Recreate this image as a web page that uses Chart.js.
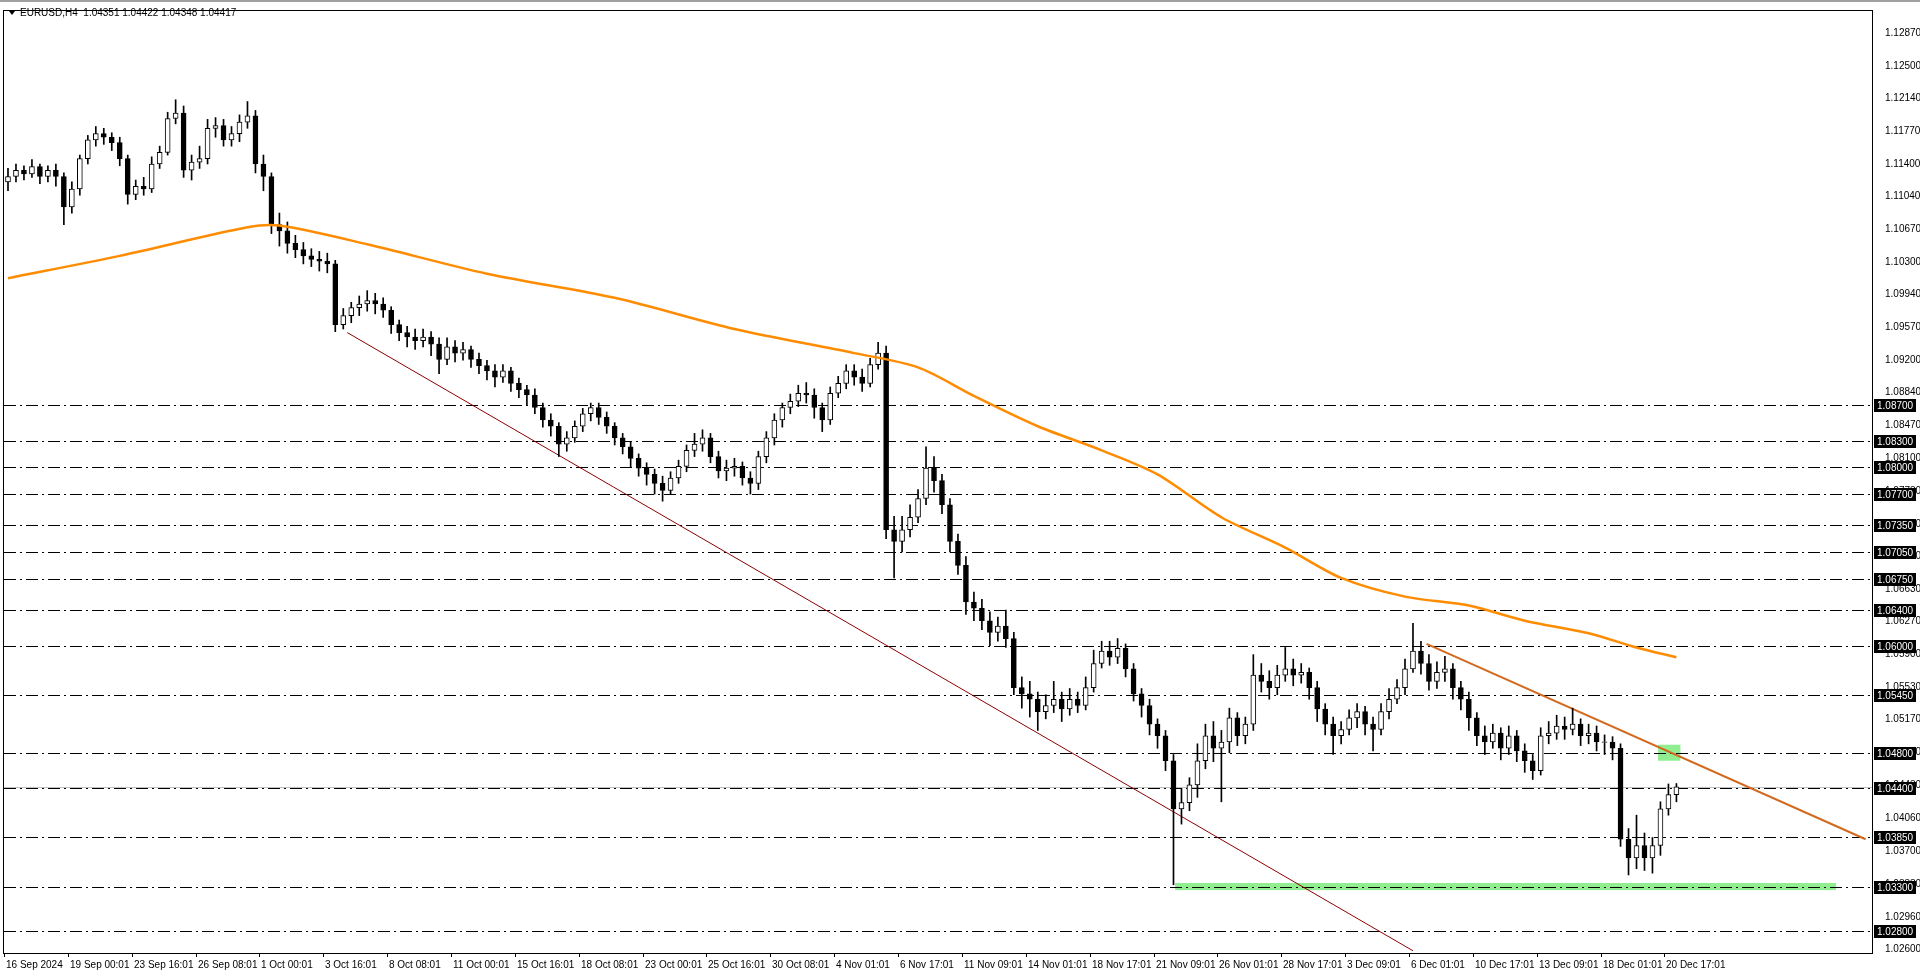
<!DOCTYPE html>
<html>
<head>
<meta charset="utf-8">
<script src="https://cdn.jsdelivr.net/npm/chart.js@4/dist/chart.umd.min.js"></script>
<style>
  html, body { margin: 0; padding: 0; background: #fff; }
  #wrap { width: 1920px; height: 976px; position: relative; }
</style>
</head>
<body>
<div id="wrap"><canvas id="c"></canvas></div>
<script>
// EURUSD H4, one candle per 8 hours
const closes = [
  1.1126,1.1133,1.1129,1.1137,1.1126,1.1133,1.1126,1.1092,1.1112,1.1146,
  1.1167,1.1174,1.1170,1.1164,1.1146,1.1106,1.1115,1.1112,1.1140,1.1153,
  1.1191,1.1197,1.1133,1.1142,1.1146,1.1180,1.1183,1.1167,1.1174,1.1187,
  1.1194,1.1140,1.1126,1.1072,1.1065,1.1051,1.1044,1.1037,1.1033,1.1031,
  1.1028,1.0960,1.0970,1.0979,1.0983,1.0987,1.0983,1.0976,1.0960,1.0951,
  1.0946,1.0942,1.0946,1.0938,1.0921,1.0935,1.0928,1.0932,1.0921,1.0914,
  1.0908,1.0901,1.0908,1.0894,1.0887,1.0881,1.0867,1.0853,1.0846,1.0826,
  1.0833,1.0846,1.0860,1.0867,1.0856,1.0846,1.0833,1.0823,1.0810,1.0799,
  1.0792,1.0782,1.0774,1.0788,1.0801,1.0819,1.0826,1.0833,1.0812,1.0796,
  1.0799,1.0801,1.0788,1.0782,1.0812,1.0833,1.0853,1.0867,1.0874,1.0883,
  1.0881,1.0867,1.0853,1.0883,1.0894,1.0908,1.0901,1.0894,1.0915,1.0928,
  1.0730,1.0717,1.0730,1.0744,1.0765,1.0799,1.0785,1.0758,1.0717,1.0690,
  1.0649,1.0642,1.0628,1.0615,1.0622,1.0608,1.0553,1.0546,1.0540,1.0526,
  1.0533,1.0540,1.0529,1.0540,1.0533,1.0553,1.0580,1.0594,1.0587,1.0597,
  1.0574,1.0546,1.0533,1.0512,1.0499,1.0471,1.0417,1.0424,1.0444,1.0471,
  1.0499,1.0485,1.0492,1.0519,1.0499,1.0512,1.0567,1.0560,1.0553,1.0567,
  1.0574,1.0567,1.0570,1.0553,1.0529,1.0512,1.0499,1.0506,1.0519,1.0526,
  1.0512,1.0506,1.0526,1.0540,1.0553,1.0574,1.0594,1.0580,1.0560,1.0570,
  1.0574,1.0553,1.0540,1.0519,1.0499,1.0492,1.0502,1.0485,1.0499,1.0482,
  1.0471,1.0460,1.0499,1.0502,1.0510,1.0506,1.0512,1.0499,1.0502,1.0492,
  1.0492,1.0485,1.0383,1.0362,1.0376,1.0362,1.0376,1.0417,1.0433,1.04417
];
const highs = [
  1.1135,1.1140,1.1138,1.1145,1.1140,1.1138,1.1140,1.1130,1.1120,1.1150,
  1.1172,1.1182,1.1180,1.1175,1.1170,1.1150,1.1122,1.1125,1.1148,1.1160,
  1.1198,1.1212,1.1205,1.1150,1.1160,1.1190,1.1192,1.1190,1.1182,1.1195,
  1.1210,1.1200,1.1150,1.1130,1.1085,1.1075,1.1060,1.1052,1.1045,1.1042,
  1.1040,1.1032,1.0978,1.0985,1.0992,1.0998,1.0995,1.0990,1.0980,1.0965,
  1.0958,1.0955,1.0955,1.0952,1.0945,1.0945,1.0942,1.0940,1.0936,1.0928,
  1.0920,1.0915,1.0915,1.0912,1.0900,1.0892,1.0888,1.0872,1.0860,1.0850,
  1.0840,1.0852,1.0866,1.0872,1.0872,1.0862,1.0850,1.0838,1.0828,1.0815,
  1.0805,1.0798,1.0790,1.0795,1.0808,1.0825,1.0838,1.0842,1.0838,1.0818,
  1.0808,1.0810,1.0806,1.0795,1.0818,1.0840,1.0860,1.0872,1.0882,1.0892,
  1.0895,1.0888,1.0872,1.0890,1.0902,1.0915,1.0915,1.0910,1.0922,1.0940,
  1.0936,1.0745,1.0745,1.0758,1.0775,1.0823,1.0812,1.0792,1.0765,1.0725,
  1.0700,1.0660,1.0652,1.0638,1.0632,1.0640,1.0615,1.0565,1.0560,1.0548,
  1.0545,1.0560,1.0548,1.0552,1.0548,1.0565,1.0595,1.0605,1.0605,1.0608,
  1.0602,1.0580,1.0552,1.0540,1.0518,1.0505,1.0478,1.0440,1.0452,1.0490,
  1.0512,1.0515,1.0505,1.0530,1.0525,1.0520,1.0590,1.0580,1.0572,1.0578,
  1.0598,1.0585,1.0580,1.0575,1.0560,1.0535,1.0520,1.0515,1.0528,1.0535,
  1.0532,1.0520,1.0535,1.0552,1.0562,1.0585,1.0625,1.0605,1.0590,1.0582,
  1.0588,1.0580,1.0560,1.0548,1.0525,1.0510,1.0512,1.0508,1.0510,1.0505,
  1.0490,1.0478,1.0508,1.0515,1.0522,1.0520,1.0530,1.0518,1.0512,1.0510,
  1.0500,1.0498,1.0490,1.0395,1.0410,1.0390,1.0385,1.0425,1.0445,1.04455
];
const lows = [
  1.1110,1.1120,1.1122,1.1125,1.1118,1.1120,1.1115,1.1072,1.1085,1.1105,
  1.1140,1.1160,1.1162,1.1155,1.1138,1.1095,1.1100,1.1105,1.1108,1.1135,
  1.1150,1.1185,1.1125,1.1122,1.1135,1.1140,1.1170,1.1160,1.1160,1.1165,
  1.1180,1.1130,1.1110,1.1062,1.1048,1.1040,1.1035,1.1028,1.1025,1.1020,
  1.1018,1.0952,1.0955,1.0962,1.0970,1.0975,1.0972,1.0968,1.0950,1.0942,
  1.0935,1.0932,1.0935,1.0925,1.0905,1.0915,1.0918,1.0920,1.0912,1.0905,
  1.0898,1.0890,1.0895,1.0885,1.0878,1.0870,1.0860,1.0845,1.0835,1.0812,
  1.0818,1.0828,1.0840,1.0852,1.0848,1.0838,1.0825,1.0815,1.0800,1.0790,
  1.0780,1.0770,1.0762,1.0770,1.0782,1.0795,1.0812,1.0818,1.0805,1.0788,
  1.0785,1.0790,1.0780,1.0770,1.0775,1.0805,1.0825,1.0845,1.0860,1.0868,
  1.0872,1.0855,1.0840,1.0848,1.0878,1.0888,1.0892,1.0885,1.0890,1.0910,
  1.0720,1.0676,1.0705,1.0722,1.0738,1.0758,1.0772,1.0748,1.0705,1.0680,
  1.0635,1.0628,1.0618,1.0600,1.0605,1.0598,1.0545,1.0530,1.0520,1.0505,
  1.0518,1.0525,1.0515,1.0522,1.0525,1.0528,1.0548,1.0575,1.0578,1.0580,
  1.0565,1.0538,1.0520,1.0500,1.0485,1.0460,1.0332,1.0400,1.0415,1.0430,
  1.0462,1.0470,1.0425,1.0480,1.0488,1.0490,1.0505,1.0548,1.0540,1.0545,
  1.0560,1.0555,1.0558,1.0540,1.0515,1.0500,1.0478,1.0490,1.0500,1.0508,
  1.0500,1.0482,1.0500,1.0518,1.0535,1.0545,1.0570,1.0568,1.0550,1.0552,
  1.0560,1.0540,1.0528,1.0505,1.0488,1.0478,1.0485,1.0472,1.0478,1.0470,
  1.0458,1.0450,1.0455,1.0490,1.0495,1.0495,1.0500,1.0488,1.0490,1.0482,
  1.0478,1.0472,1.0375,1.0343,1.0350,1.0348,1.0345,1.0365,1.0410,1.0425
];
const firstOpen = 1.1120;

// moving average, sampled at a few candle indices
const maIndex = [0, 14, 30, 34, 45, 60, 76, 91, 106, 114, 121, 129, 137, 144, 152, 160, 167, 175, 183, 190, 198, 204, 209];
const maValue = [1.1012,1.1037,1.1069,1.1071,1.1050,1.1017,1.0990,1.0955,1.0928,1.0912,1.0880,1.0846,1.0819,1.0792,1.0744,1.0710,1.0676,1.0655,1.0645,1.0628,1.0614,1.0598,1.0587];

const timeLabels = ['16 Sep 2024','19 Sep 00:01','23 Sep 16:01','26 Sep 08:01','1 Oct 00:01','3 Oct 16:01','8 Oct 08:01',
  '11 Oct 00:01','15 Oct 16:01','18 Oct 08:01','23 Oct 00:01','25 Oct 16:01','30 Oct 08:01','4 Nov 01:01','6 Nov 17:01',
  '11 Nov 09:01','14 Nov 01:01','18 Nov 17:01','21 Nov 09:01','26 Nov 01:01','28 Nov 17:01','3 Dec 09:01','6 Dec 01:01',
  '10 Dec 17:01','13 Dec 09:01','18 Dec 01:01','20 Dec 17:01'];
const priceTicks = [1.1287,1.125,1.1214,1.1177,1.114,1.1104,1.1067,1.103,1.0994,1.0957,1.092,1.0884,1.0847,1.081,
  1.07730,1.0736,1.07,1.0663,1.0627,1.059,1.0553,1.0517,1.048,1.0443,1.0406,1.037,1.0333,1.0296,1.026];
const levels = [1.087,1.083,1.080,1.077,1.0735,1.0705,1.0675,1.064,1.060,1.0545,1.048,1.044,1.0385,1.033,1.028];

// trend lines [index, price] pairs and zones
const redTrend = [[42.5, 1.0951], [176, 1.0258]];
const orangeTrend = [[177.7, 1.0602], [232.7, 1.0383]];
const zones = [[146.2, 229, 1.0334, 1.0326], [206.7, 209.5, 1.0489, 1.0471]];

const SLOTS = 234;
const FONT = '10px "Liberation Sans", Arial';
const labels = Array.from({ length: SLOTS }, (_, i) => i);
const opens = closes.map((c, i) => i === 0 ? firstOpen : closes[i - 1]);
const bodies = closes.map((c, i) => {
  const o = opens[i];
  return Math.abs(c - o) < 0.00004 ? [o - 0.00003, o + 0.00003] : [o, c];
});
const wicks = closes.map((c, i) => [lows[i], highs[i]]);
const bodyFill = closes.map((c, i) => c >= opens[i] ? '#ffffff' : '#000000');
const maData = labels.map(i => { const k = maIndex.indexOf(i); return k >= 0 ? maValue[k] : null; });

const overlay = {
  id: 'overlay',
  beforeDatasetsDraw(chart) {
    const { ctx, chartArea: a, scales: { x, y } } = chart;
    ctx.save();
    ctx.beginPath(); ctx.rect(a.left, a.top, a.width, a.height); ctx.clip();
    ctx.fillStyle = '#90ee90';
    zones.forEach(z => {
      const x0 = x.getPixelForValue(z[0]), x1 = x.getPixelForValue(z[1]);
      const y0 = y.getPixelForValue(z[2]), y1 = y.getPixelForValue(z[3]);
      ctx.fillRect(x0, y0, x1 - x0, y1 - y0);
    });
    ctx.strokeStyle = '#c0c0c0'; ctx.lineWidth = 1;
    const py = Math.round(y.getPixelForValue(closes[closes.length - 1])) + 0.5;
    ctx.beginPath(); ctx.moveTo(a.left, py); ctx.lineTo(a.right, py); ctx.stroke();
    ctx.strokeStyle = '#000'; ctx.setLineDash([12, 4, 2, 4]);
    levels.forEach(v => {
      const ly = Math.round(y.getPixelForValue(v)) + 0.5;
      ctx.beginPath(); ctx.moveTo(a.left, ly); ctx.lineTo(a.right, ly); ctx.stroke();
    });
    ctx.setLineDash([]);
    const line = (pts, color, w) => {
      ctx.strokeStyle = color; ctx.lineWidth = w;
      ctx.beginPath();
      ctx.moveTo(x.getPixelForValue(pts[0][0]), y.getPixelForValue(pts[0][1]));
      ctx.lineTo(x.getPixelForValue(pts[1][0]), y.getPixelForValue(pts[1][1]));
      ctx.stroke();
    };
    line(redTrend, '#8b0000', 1);
    line(orangeTrend, '#d2691e', 2);
    ctx.restore();
  },
  afterDraw(chart) {
    const { ctx, chartArea: a, scales: { x, y } } = chart;
    ctx.save();
    ctx.strokeStyle = '#000'; ctx.lineWidth = 1;
    ctx.strokeRect(a.left - 0.5, a.top - 0.5, a.width + 1, a.height + 1);
    ctx.fillStyle = '#a0a0a0'; ctx.fillRect(0, 0, 1920, 2);
    ctx.fillStyle = '#000'; ctx.font = FONT;
    ctx.beginPath(); ctx.moveTo(9, 11); ctx.lineTo(15, 11); ctx.lineTo(12, 15); ctx.closePath(); ctx.fill();
    ctx.textBaseline = 'middle'; ctx.textAlign = 'left';
    ctx.fillText('EURUSD,H4  1.04351 1.04422 1.04348 1.04417', 20, 13);
    ctx.textBaseline = 'top';
    timeLabels.forEach((t, k) => {
      const px = Math.round(x.getPixelForValue(k * 8)) - 4;
      ctx.fillRect(px, a.bottom, 1, 4);
      ctx.fillText(t, px + 2, a.bottom + 7);
    });
    ctx.textBaseline = 'middle';
    levels.forEach(v => {
      const ly = Math.round(y.getPixelForValue(v));
      ctx.fillStyle = '#000'; ctx.fillRect(a.right + 2, ly - 6, 42, 13);
      ctx.fillStyle = '#fff'; ctx.fillText(v.toFixed(5), a.right + 5, ly + 1);
    });
    ctx.restore();
  }
};

new Chart(document.getElementById('c'), {
  type: 'bar',
  data: {
    labels,
    datasets: [
      { type: 'line', data: maData, borderColor: '#ff8c00', borderWidth: 2.5, pointRadius: 0, spanGaps: true, tension: 0.3, order: 0 },
      { data: bodies, backgroundColor: bodyFill, borderColor: '#000', borderWidth: 1, borderSkipped: false, barThickness: 5, grouped: false, order: 1 },
      { data: wicks, backgroundColor: '#000', barThickness: 1, grouped: false, order: 2 }
    ]
  },
  options: {
    responsive: true, maintainAspectRatio: false, animation: false,
    layout: { padding: { left: 4, top: 5, right: 0, bottom: 23 } },
    plugins: { legend: { display: false }, tooltip: { enabled: false } },
    scales: {
      x: { display: false },
      y: {
        position: 'right', min: 1.02555, max: 1.13115,
        grid: { display: false }, border: { display: false },
        afterFit: s => { s.width = 48; },
        afterBuildTicks: s => { s.ticks = priceTicks.map(v => ({ value: v })); },
        ticks: { color: '#000', font: { family: 'Liberation Sans', size: 10 }, padding: 5, callback: v => v.toFixed(5) }
      }
    }
  },
  plugins: [overlay]
});
</script>
</body>
</html>
